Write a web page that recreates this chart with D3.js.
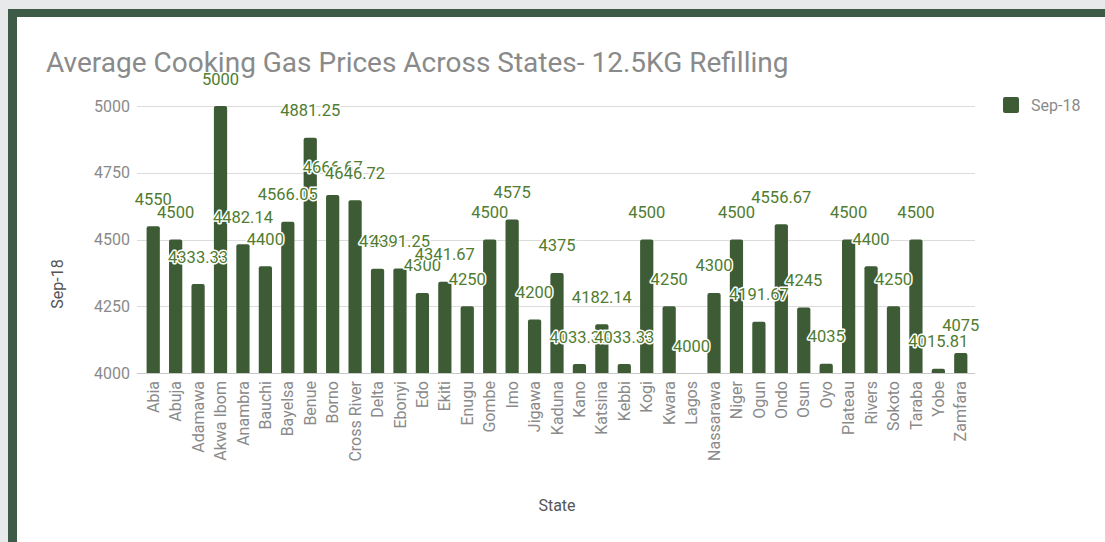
<!DOCTYPE html>
<html>
<head>
<meta charset="utf-8">
<script src="https://cdn.jsdelivr.net/npm/d3@7"></script>
<style>
  html, body { margin: 0; padding: 0; background: #e8e9eb; }
  svg { display: block; }
  text { font-family: Roboto, "Noto Sans", sans-serif; }
</style>
</head>
<body>
<svg id="chart" width="1105" height="542"></svg>
<script>
const states = ["Abia","Abuja","Adamawa","Akwa Ibom","Anambra","Bauchi","Bayelsa","Benue","Borno","Cross River","Delta","Ebonyi","Edo","Ekiti","Enugu","Gombe","Imo","Jigawa","Kaduna","Kano","Katsina","Kebbi","Kogi","Kwara","Lagos","Nassarawa","Niger","Ogun","Ondo","Osun","Oyo","Plateau","Rivers","Sokoto","Taraba","Yobe","Zamfara"];
const sep18 = [4550,4500,4333.33,5000,4482.14,4400,4566.05,4881.25,4666.67,4646.72,4390,4391.25,4300,4341.67,4250,4500,4575,4200,4375,4033.33,4182.14,4033.33,4500,4250,4000,4300,4500,4191.67,4556.67,4245,4035,4500,4400,4250,4500,4015.81,4075];
const yTicks = [4000,4250,4500,4750,5000];
const seriesName = "Sep-18";
const titleText = "Average Cooking Gas Prices Across States- 12.5KG Refilling";
const xTitle = "State";

const svg = d3.select("#chart");
const W = 1105, H = 542;
const barColor = "#3d5b35", labelColor = "#4f7c30", frameColor = "#3d5b46";

// frame
svg.append("rect").attr("x", 8).attr("y", 9).attr("width", W - 8).attr("height", H - 9).attr("fill", frameColor);
svg.append("rect").attr("x", 17).attr("y", 17).attr("width", W - 17).attr("height", H - 17).attr("fill", "#ffffff");

const x = d3.scaleBand().domain(states).range([142, 972]).paddingInner(0.41).paddingOuter(0.205);
const y = d3.scaleLinear().domain([4000, 5000]).range([373, 106]);

// gridlines
svg.append("g").selectAll("line").data(yTicks).join("line")
  .attr("x1", 137).attr("x2", 975)
  .attr("y1", d => Math.round(y(d)) + 0.5).attr("y2", d => Math.round(y(d)) + 0.5)
  .attr("stroke", d => d === 4000 ? "#c8c8c8" : "#dcdcdc").attr("stroke-width", 1);

// y axis labels
const yAxis = d3.axisLeft(y).tickValues(yTicks).tickSize(0).tickPadding(0).tickFormat(d3.format("d"));
const gy = svg.append("g").attr("transform", "translate(130,0)").call(yAxis);
gy.select(".domain").remove();
gy.selectAll("text").attr("font-size", 16).attr("fill", "#8a8a8a").attr("font-family", "Roboto");

// bars with rounded top
const r = 2;
function barPath(d, i) {
  const x0 = x(states[i]), w = x.bandwidth();
  const yt = y(d), yb = y(4000);
  const h = yb - yt;
  if (h <= 0) return "";
  const rr = Math.min(r, h);
  return `M${x0},${yb}V${yt + rr}Q${x0},${yt} ${x0 + rr},${yt}H${x0 + w - rr}Q${x0 + w},${yt} ${x0 + w},${yt + rr}V${yb}Z`;
}
svg.append("g").selectAll("path").data(sep18).join("path")
  .attr("d", (d, i) => barPath(d, i))
  .attr("fill", barColor);

// x axis labels
const xAxis = d3.axisBottom(x).tickSize(0).tickPadding(0);
const gx = svg.append("g").attr("transform", "translate(0,381)").call(xAxis);
gx.select(".domain").remove();
gx.selectAll("text")
  .attr("font-size", 16).attr("fill", "#8a8a8a").attr("font-family", "Roboto")
  .attr("transform", "rotate(-90)")
  .attr("text-anchor", "end").attr("x", 0).attr("y", 0).attr("dy", "0.35em");

// value labels
svg.append("g").selectAll("text").data(sep18).join("text")
  .attr("x", (d, i) => x(states[i]) + x.bandwidth() / 2)
  .attr("y", d => y(d) - 21.5)
  .attr("text-anchor", "middle")
  .attr("font-size", 16.5)
  .attr("fill", labelColor)
  .attr("stroke", "#ffffff").attr("stroke-width", 3).attr("stroke-linejoin", "round")
  .attr("paint-order", "stroke")
  .text(d => String(d));

// title
svg.append("text").attr("x", 46).attr("y", 72).attr("font-size", 28).attr("fill", "#8a8a8a").text(titleText);

// axis titles
svg.append("text").attr("x", 557).attr("y", 511).attr("text-anchor", "middle").attr("font-size", 16).attr("fill", "#555").text(xTitle);
svg.append("text").attr("transform", "translate(63,284) rotate(-90)").attr("text-anchor", "middle").attr("font-size", 16).attr("fill", "#555").text(seriesName);

// legend
svg.append("rect").attr("x", 1003).attr("y", 97).attr("width", 16).attr("height", 16).attr("rx", 2).attr("fill", barColor);
svg.append("text").attr("x", 1031).attr("y", 111).attr("font-size", 16).attr("fill", "#8a8a8a").text(seriesName);
</script>
</body>
</html>
